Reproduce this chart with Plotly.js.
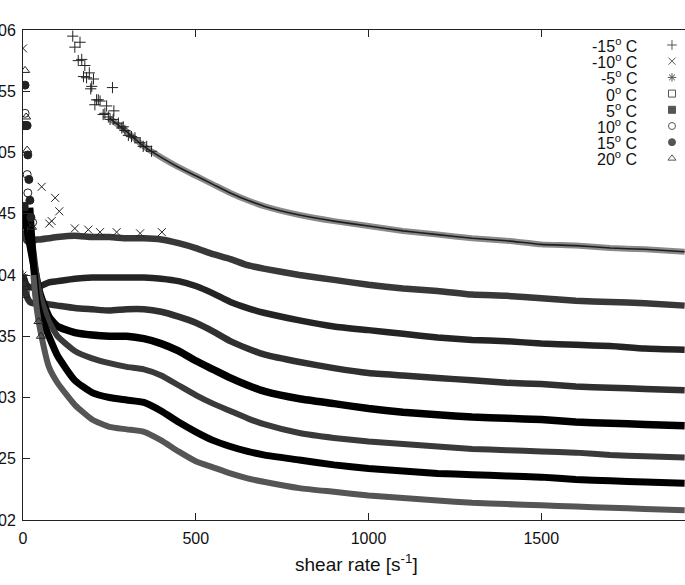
<!DOCTYPE html>
<html>
<head>
<meta charset="utf-8">
<script src="https://cdn.plot.ly/plotly-3.0.1.min.js"></script>
<style>
  html, body { margin:0; padding:0; background:#fff; overflow:hidden; width:685px; height:585px; }
  /* the source figure is cropped on both sides, so the plot is wider than the window */
  #plot { position:absolute; left:-40px; top:0; width:770px; height:585px; }
</style>
</head>
<body>
<div id="plot"></div>
<script>
// viscosity vs shear rate, one band per temperature
const temps   = ['-15', '-10', '-5', '0', '5', '10', '15', '20'];
const symbols = ['cross-thin-open', 'x-thin-open', 'asterisk-open', 'square-open',
                 'square', 'circle-open', 'circle', 'triangle-up-open'];

// shear rate [1/s] where the dense bands were read
const rate = [0, 10, 20, 30, 40, 50, 75, 100, 150, 200, 250, 300, 350, 400, 450, 500, 550,
              600, 650, 700, 800, 900, 1000, 1100, 1200, 1300, 1400, 1500, 1600, 1700, 1800, 1915];

const bandM15 = [null, null, null, null, null, null, null, null, null, null, 0.0528, 0.0517, 0.0505, 0.0496, 0.0488, 0.0481, 0.0474,
                 0.0467, 0.0461, 0.0456, 0.0449, 0.0444, 0.0440, 0.0436, 0.0433, 0.0430, 0.0428, 0.0425, 0.0424, 0.0422, 0.0421, 0.0419];
const bandM10 = [0.0436, 0.0428, 0.0427, 0.0428, 0.0429, 0.0429, 0.0430, 0.0431, 0.0432, 0.0431, 0.0431, 0.0430, 0.0430, 0.0429, 0.0426, 0.0422, 0.0417,
                 0.0413, 0.0408, 0.0405, 0.0400, 0.0396, 0.0392, 0.0389, 0.0387, 0.0384, 0.0383, 0.0381, 0.0379, 0.0378, 0.0377, 0.0375];
const bandM5  = [0.0400, 0.0392, 0.0390, 0.0390, 0.0391, 0.0391, 0.0394, 0.0395, 0.0397, 0.0398, 0.0398, 0.0398, 0.0398, 0.0397, 0.0395, 0.0391, 0.0385,
                 0.0378, 0.0373, 0.0369, 0.0363, 0.0358, 0.0355, 0.0352, 0.0349, 0.0347, 0.0346, 0.0344, 0.0343, 0.0342, 0.0340, 0.0339];
const bandP0  = [0.0394, 0.0383, 0.0378, 0.0377, 0.0377, 0.0377, 0.0376, 0.0375, 0.0373, 0.0372, 0.0371, 0.0372, 0.0372, 0.0370, 0.0366, 0.0361, 0.0354,
                 0.0346, 0.0340, 0.0335, 0.0329, 0.0324, 0.0320, 0.0318, 0.0316, 0.0314, 0.0312, 0.0311, 0.0309, 0.0308, 0.0307, 0.0306];
const bandP5  = [0.0456, 0.0440, 0.0425, 0.0410, 0.0396, 0.0384, 0.0366, 0.0358, 0.0353, 0.0351, 0.0350, 0.0350, 0.0348, 0.0344, 0.0338, 0.0330, 0.0323,
                 0.0316, 0.0310, 0.0305, 0.0299, 0.0295, 0.0291, 0.0288, 0.0286, 0.0284, 0.0283, 0.0282, 0.0280, 0.0279, 0.0278, 0.0277];
const bandP10 = [null, null, 0.0440, 0.0420, 0.0398, 0.0383, 0.0362, 0.0350, 0.0338, 0.0332, 0.0328, 0.0325, 0.0323, 0.0318, 0.0310, 0.0302, 0.0295,
                 0.0289, 0.0283, 0.0278, 0.0271, 0.0267, 0.0264, 0.0262, 0.0260, 0.0258, 0.0257, 0.0256, 0.0255, 0.0253, 0.0252, 0.0251];
const bandP15 = [null, null, 0.0455, 0.0410, 0.0380, 0.0368, 0.0350, 0.0334, 0.0314, 0.0304, 0.0300, 0.0298, 0.0296, 0.0289, 0.0280, 0.0272, 0.0265,
                 0.0260, 0.0256, 0.0253, 0.0249, 0.0245, 0.0242, 0.0240, 0.0238, 0.0237, 0.0236, 0.0235, 0.0233, 0.0232, 0.0231, 0.0230];
const bandP20 = [null, null, null, 0.0400, 0.0372, 0.0355, 0.0325, 0.0312, 0.0294, 0.0282, 0.0276, 0.0274, 0.0272, 0.0265, 0.0256, 0.0248, 0.0243,
                 0.0238, 0.0234, 0.0231, 0.0226, 0.0223, 0.0220, 0.0218, 0.0216, 0.0214, 0.0213, 0.0212, 0.0211, 0.0210, 0.0209, 0.0208];

// single scattered points [rate, viscosity] that stand apart from the bands
const strayM15 = [[144, 0.0595], [165, 0.0590], [150, 0.0586], [160, 0.0575], [170, 0.0576], [179, 0.0571], [175, 0.0562],
                  [192, 0.0565], [204, 0.0560], [184, 0.0561], [196, 0.0552], [199, 0.0554], [259, 0.0553], [218, 0.0543],
                  [213, 0.0543], [208, 0.0539], [223, 0.0542], [242, 0.0538], [263, 0.0534], [237, 0.0532], [232, 0.0531],
                  [247, 0.0529], [252, 0.0527], [261, 0.0527], [276, 0.0524], [290, 0.0521], [286, 0.0520], [295, 0.0518],
                  [305, 0.0514], [314, 0.0513], [324, 0.0512], [339, 0.0508], [348, 0.0505], [358, 0.0505], [372, 0.0501]];
const strayM10 = [[0, 0.0585], [54, 0.0472], [76, 0.0442], [83, 0.0444], [93, 0.0463], [105, 0.0452],
                  [150, 0.0438], [189, 0.0437], [223, 0.0435], [271, 0.0435], [339, 0.0434], [402, 0.0435]];
const strayM5  = [[0, 0.0400]];
const strayP0  = [[0, 0.0394], [6, 0.0385]];
const strayP5  = [[3, 0.0522], [3, 0.0456]];
const strayP10 = [[6, 0.0532], [12, 0.0482], [14, 0.0467], [28, 0.0443]];
const strayP15 = [[6, 0.0555], [12, 0.0522], [14, 0.0498], [17, 0.0478], [20, 0.0461], [23, 0.0447]];
const strayP20 = [[6, 0.0567], [9, 0.0529], [12, 0.0502], [26, 0.0439], [45, 0.0362], [52, 0.0350]];

const yTickVals = [0.02, 0.025, 0.03, 0.035, 0.04, 0.045, 0.05, 0.055, 0.06];
const yTickText = ['0.02', '0.025', '0.03', '0.035', '0.04', '0.045', '0.05', '0.055', '0.06'];
const xTickVals = [0, 500, 1000, 1500, 2000];

const bands  = [bandM15, bandM10, bandM5, bandP0, bandP5, bandP10, bandP15, bandP20];
const strays = [strayM15, strayM10, strayM5, strayP0, strayP5, strayP10, strayP15, strayP20];

// the measured points are so dense that they merge into thick bands
const bandColor = ['#8a8a8a', '#383838', '#242424', '#303030', '#000000', '#3a3a3a', '#000000', '#555555'];
const bandWidth = [6, 6.5, 6.5, 6.5, 7.5, 6, 7, 6];

const FONT = 'Liberation Sans, Arial, Helvetica, sans-serif';
const traces = [];

bands.forEach((b, i) => {
    traces.push({ x: rate, y: b, type: 'scatter', mode: 'lines', hoverinfo: 'skip',
                  line: { color: bandColor[i], width: bandWidth[i], shape: 'spline', smoothing: 0.5 } });
});
// -15 band has a dark core where the crosses overlap
traces.push({ x: rate, y: bandM15, type: 'scatter', mode: 'lines', hoverinfo: 'skip',
              line: { color: '#1e1e1e', width: 1.6, shape: 'spline', smoothing: 0.5 } });

strays.forEach((s, i) => {
    traces.push({ x: s.map(p => p[0]), y: s.map(p => p[1]), type: 'scatter', mode: 'markers', hoverinfo: 'skip',
                  marker: { symbol: symbols[i], size: 8, color: '#222', line: { color: '#222', width: 1 } } });
});

// key: text on the left, symbol on the right (gnuplot style), drawn in paper units
const keyTop = 0.9694, keyStep = 16.2 / 490, keyTextX = 0.8915, keySymX = 0.9392;
traces.push({ x: temps.map(() => keySymX), y: temps.map((t, i) => keyTop - i * keyStep),
              xaxis: 'x2', yaxis: 'y2', type: 'scatter', mode: 'markers', hoverinfo: 'skip',
              marker: { symbol: symbols, size: 7, color: '#555', line: { color: '#555', width: 1 } } });

const annotations = temps.map((t, i) => ({
    xref: 'paper', yref: 'paper', x: keyTextX, y: keyTop - i * keyStep,
    xanchor: 'right', yanchor: 'middle', showarrow: false,
    text: t + '<sup>o</sup> C', font: { family: FONT, size: 16, color: '#111' }
}));
// x title sits a little left of the axis centre in the source
annotations.push({
    xref: 'paper', yref: 'paper', x: 0.482, y: -0.088, xanchor: 'center', yanchor: 'middle',
    showarrow: false, text: 'shear rate [s<sup>-1</sup>]', font: { family: FONT, size: 19, color: '#111' }
});

const axisCommon = {
    showline: true, linecolor: '#222', linewidth: 1, mirror: 'ticks',
    ticks: 'inside', ticklen: 7, tickwidth: 1, tickcolor: '#222',
    showgrid: false, zeroline: false,
    tickfont: { family: FONT, size: 16, color: '#111' }
};

const layout = {
    width: 770, height: 585,
    margin: { l: 63, r: 16, t: 30, b: 65 },
    paper_bgcolor: '#fff', plot_bgcolor: '#fff',
    showlegend: false,
    xaxis: Object.assign({}, axisCommon, {
        range: [0, 2000], tickmode: 'array', tickvals: xTickVals, ticklabelstandoff: 4
    }),
    yaxis: Object.assign({}, axisCommon, {
        range: [0.02, 0.06], tickmode: 'array', tickvals: yTickVals, ticktext: yTickText, ticklabelstandoff: 3
    }),
    xaxis2: { overlaying: 'x', range: [0, 1], visible: false, fixedrange: true },
    yaxis2: { overlaying: 'y', range: [0, 1], visible: false, fixedrange: true },
    annotations
};

Plotly.newPlot('plot', traces, layout, { displayModeBar: false, staticPlot: true });
</script>
</body>
</html>
